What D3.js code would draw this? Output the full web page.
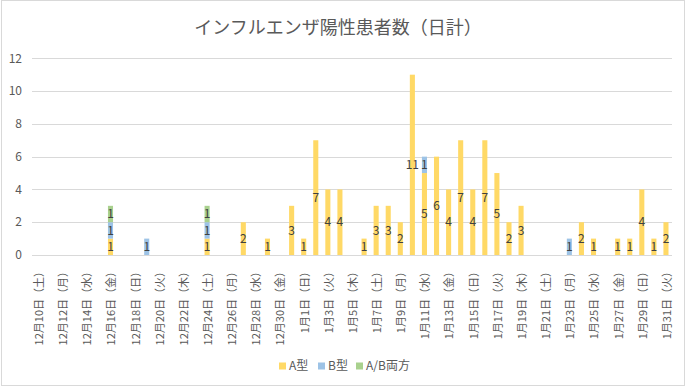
<!DOCTYPE html>
<html>
<head>
<meta charset="utf-8">
<script src="https://cdn.jsdelivr.net/npm/d3@7"></script>
<style>
  body { margin: 0; background: #fff; }
  text { font-family: "Noto Sans CJK JP", "Noto Sans", sans-serif; }
</style>
</head>
<body>
<svg id="chart" width="686" height="387"></svg>
<script>
// Categories: one per day, 12/10 to 1/31
const days = [
  "12月10日（土）","12月11日（日）","12月12日（月）","12月13日（火）","12月14日（水）","12月15日（木）","12月16日（金）",
  "12月17日（土）","12月18日（日）","12月19日（月）","12月20日（火）","12月21日（水）","12月22日（木）","12月23日（金）",
  "12月24日（土）","12月25日（日）","12月26日（月）","12月27日（火）","12月28日（水）","12月29日（木）","12月30日（金）",
  "12月31日（土）","1月1日（日）","1月2日（月）","1月3日（火）","1月4日（水）","1月5日（木）","1月6日（金）",
  "1月7日（土）","1月8日（日）","1月9日（月）","1月10日（火）","1月11日（水）","1月12日（木）","1月13日（金）",
  "1月14日（土）","1月15日（日）","1月16日（月）","1月17日（火）","1月18日（水）","1月19日（木）","1月20日（金）",
  "1月21日（土）","1月22日（日）","1月23日（月）","1月24日（火）","1月25日（水）","1月26日（木）","1月27日（金）",
  "1月28日（土）","1月29日（日）","1月30日（月）","1月31日（火）"
];

// Series values (same order as days)
const typeA = [0,0,0,0,0,0,1,0,0,0,0,0,0,0,1,0,0,2,0,1,0,3,1,7,4,4,0,1,3,3,2,11,5,6,4,7,4,7,5,2,3,0,0,0,0,2,1,0,1,1,4,1,2];
const typeB = [0,0,0,0,0,0,1,0,0,1,0,0,0,0,1,0,0,0,0,0,0,0,0,0,0,0,0,0,0,0,0,0,1,0,0,0,0,0,0,0,0,0,0,0,1,0,0,0,0,0,0,0,0];
const typeAB = [0,0,0,0,0,0,1,0,0,0,0,0,0,0,1,0,0,0,0,0,0,0,0,0,0,0,0,0,0,0,0,0,0,0,0,0,0,0,0,0,0,0,0,0,0,0,0,0,0,0,0,0,0];

const seriesNames = ["A型", "B型", "A/B両方"];
const seriesKeys = ["a", "b", "ab"];
const yTicks = [0, 2, 4, 6, 8, 10, 12];

// Build the table d3.stack wants
const table = days.map((d, i) => ({ day: d, a: typeA[i], b: typeB[i], ab: typeAB[i] }));

const svg = d3.select("#chart");
const width = +svg.attr("width"), height = +svg.attr("height");

// Chart area border
svg.append("rect")
   .attr("x", 1.5).attr("y", 0.5)
   .attr("width", 683).attr("height", 385)
   .attr("fill", "#fff").attr("stroke", "#d9d9d9");

const plot = { left: 32, right: 672, top: 58.3, bottom: 255 };

const x = d3.scaleBand().domain(days).range([plot.left, plot.right]).padding(0);
const y = d3.scaleLinear().domain([0, 12]).range([plot.bottom, plot.top]);
const color = d3.scaleOrdinal().domain(seriesKeys).range(["#ffd966", "#9dc3e6", "#a9d18e"]);

// Title
svg.append("text")
   .attr("x", 338).attr("y", 34)
   .attr("text-anchor", "middle")
   .attr("fill", "#595959")
   .style("font-size", "18px")
   .text("インフルエンザ陽性患者数（日計）");

// Horizontal gridlines
svg.append("g")
   .selectAll("line")
   .data(yTicks)
   .join("line")
   .attr("x1", plot.left).attr("x2", plot.right)
   .attr("y1", d => Math.round(y(d)) + 0.5).attr("y2", d => Math.round(y(d)) + 0.5)
   .attr("stroke", "#d9d9d9");

// Y axis labels
svg.append("g")
   .selectAll("text")
   .data(yTicks)
   .join("text")
   .attr("x", 22).attr("y", d => y(d))
   .attr("dy", "0.35em")
   .attr("text-anchor", "end")
   .attr("fill", "#595959")
   .style("font-size", "12px")
   .text(d => d);

// Stacked bars
const stacked = d3.stack().keys(seriesKeys)(table);
const barW = x.bandwidth() * 0.42;

const layers = svg.append("g")
   .selectAll("g")
   .data(stacked)
   .join("g")
   .attr("fill", d => color(d.key));

layers.selectAll("rect")
   .data(d => d.filter(s => s[1] - s[0] > 0))
   .join("rect")
   .attr("x", s => x(s.data.day) + (x.bandwidth() - barW) / 2)
   .attr("y", s => y(s[1]))
   .attr("width", barW)
   .attr("height", s => y(s[0]) - y(s[1]));

// Data labels in the middle of each segment
svg.append("g")
   .selectAll("g")
   .data(stacked)
   .join("g")
   .selectAll("text")
   .data(d => d.filter(s => s[1] - s[0] > 0))
   .join("text")
   .attr("x", s => x(s.data.day) + x.bandwidth() / 2)
   .attr("y", s => (y(s[0]) + y(s[1])) / 2)
   .attr("dy", "0.35em")
   .attr("text-anchor", "middle")
   .attr("fill", "#404040")
   .style("font-size", "12px")
   .text(s => s[1] - s[0]);

// X axis labels, every other day, rotated
svg.append("g")
   .selectAll("text")
   .data(days.filter((d, i) => i % 2 === 0))
   .join("text")
   .attr("transform", d => `translate(${x(d) + x.bandwidth() / 2 + 1},266) rotate(-90)`)
   .attr("dy", "0.35em")
   .attr("text-anchor", "end")
   .attr("fill", "#595959")
   .style("font-size", "11px")
   .text(d => d);

// Legend
const legend = svg.append("g")
   .selectAll("g")
   .data(seriesKeys)
   .join("g")
   .attr("transform", (d, i) => `translate(${[279, 318, 356][i]},366)`);

legend.append("rect")
   .attr("x", 0).attr("y", -3.5)
   .attr("width", 7).attr("height", 7)
   .attr("fill", d => color(d));

legend.append("text")
   .attr("x", 10).attr("dy", "0.35em")
   .attr("fill", "#595959")
   .style("font-size", "12px")
   .text((d, i) => seriesNames[i]);
</script>
</body>
</html>
